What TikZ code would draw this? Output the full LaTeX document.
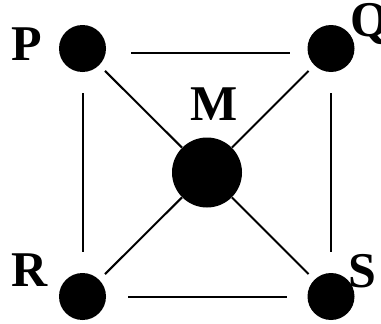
\documentclass[tikz,border=0pt]{standalone}
\usepackage{fontspec}
\setmainfont{Liberation Serif}
\begin{document}
\begin{tikzpicture}[x=1pt,y=-1pt,
  dot/.style={circle,fill=black,draw=none,inner sep=0pt,minimum size=47pt},
  bigdot/.style={circle,fill=black,draw=none,inner sep=0pt,minimum size=70pt},
  lbl/.style={inner sep=0pt,anchor=base,font=\fontsize{50}{50}\selectfont\bfseries},
  edge/.style={line width=2pt}]
\useasboundingbox (0,0) rectangle (381,324);
\node[dot] (P) at (82.5,48.5) {};
\node[dot] (Q) at (331,48.5) {};
\node[dot] (R) at (82.5,296.5) {};
\node[dot] (S) at (331,296.5) {};
\node[bigdot] (M) at (207,172.5) {};
\node[lbl] (lP) at (27,60) {P};
\node[lbl] (lQ) at (370,37) {Q};
\node[lbl] (lM) at (214.5,120) {M};
\node[lbl] (lR) at (29.5,286) {R};
\node[lbl] (lS) at (362.5,287) {S};
\draw[edge,shorten <=25pt,shorten >=17pt] ([yshift=-4pt]P.east) -- ([yshift=-4pt]Q.west);
\draw[edge,shorten <=22pt,shorten >=20pt] (R.east) -- (S.west);
\draw[edge,shorten <=21pt,shorten >=21pt] (P.south) -- (R.south |- R.north);
\draw[edge,shorten <=21pt,shorten >=21pt] (Q.south) -- (S.north);
\draw[edge,shorten <=8pt] (P) -- (M);
\draw[edge,shorten <=8pt] (Q) -- (M);
\draw[edge,shorten <=8pt] (R) -- (M);
\draw[edge,shorten <=8pt] (S) -- (M);
\end{tikzpicture}
\end{document}
